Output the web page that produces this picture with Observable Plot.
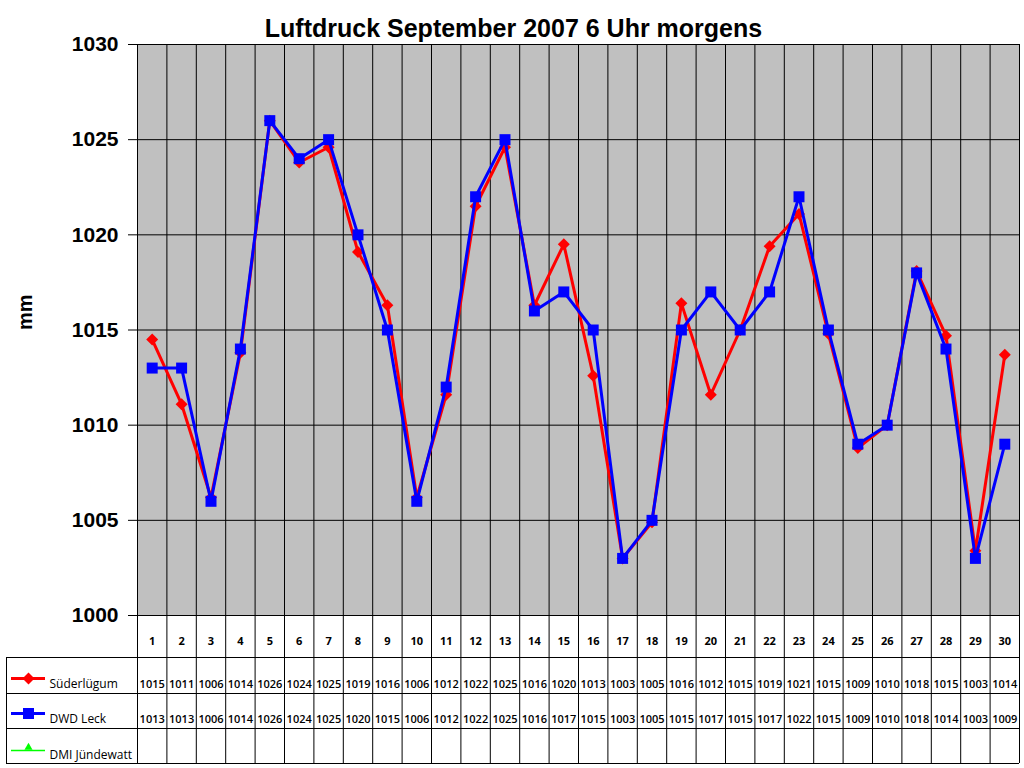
<!DOCTYPE html>
<html>
<head>
<meta charset="utf-8">
<script src="https://cdn.jsdelivr.net/npm/d3@7"></script>
<script src="https://cdn.jsdelivr.net/npm/@observablehq/plot@0.6"></script>
<style>
  html, body { margin: 0; padding: 0; background: #fff; }
  #chart { width: 1024px; height: 768px; }
</style>
</head>
<body>
<div id="chart"></div>
<script>
const title = "Luftdruck September 2007 6 Uhr morgens";
const yLabel = "mm";
const days = [1,2,3,4,5,6,7,8,9,10,11,12,13,14,15,16,17,18,19,20,21,22,23,24,25,26,27,28,29,30];
const seriesNames = ["Süderlügum", "DWD Leck", "DMI Jündewatt"];
// plotted values
const suederluegum = [1014.5,1011.1,1006.2,1013.8,1026.0,1023.8,1024.6,1019.1,1016.3,1006.2,1011.6,1021.5,1024.6,1016.3,1019.5,1012.6,1003.0,1004.9,1016.4,1011.6,1015.0,1019.4,1021.1,1014.8,1008.8,1010.0,1018.1,1014.7,1003.4,1013.7];
const dwdLeck = [1013,1013,1006,1014,1026,1024,1025,1020,1015,1006,1012,1022,1025,1016,1017,1015,1003,1005,1015,1017,1015,1017,1022,1015,1009,1010,1018,1014,1003,1009];
// table labels
const suederluegumTable = [1015,1011,1006,1014,1026,1024,1025,1019,1016,1006,1012,1022,1025,1016,1020,1013,1003,1005,1016,1012,1015,1019,1021,1015,1009,1010,1018,1015,1003,1014];
const dwdLeckTable = [1013,1013,1006,1014,1026,1024,1025,1020,1015,1006,1012,1022,1025,1016,1017,1015,1003,1005,1015,1017,1015,1017,1022,1015,1009,1010,1018,1014,1003,1009];
const yTicks = [1000,1005,1010,1015,1020,1025,1030];

const rows = days.map((d, i) => ({day: d, s: suederluegum[i], w: dwdLeck[i], sT: suederluegumTable[i], wT: dwdLeckTable[i]}));
const bounds = [days[0] - 0.5, ...days.map(d => d + 0.5)];

const tableFont = "'Open Sans', 'Noto Sans', sans-serif";

const plot = Plot.plot({
  width: 1024,
  height: 768,
  marginTop: 44,
  marginLeft: 137,
  marginRight: 5,
  marginBottom: 153,
  style: {fontFamily: "'Liberation Sans', Arial, sans-serif", background: "white", color: "black"},
  x: {domain: [bounds[0], bounds[bounds.length - 1]], axis: null},
  y: {domain: [yTicks[0], yTicks[yTicks.length - 1]], axis: null},
  marks: [
    Plot.frame({fill: "#c0c0c0", stroke: null}),
    Plot.gridY(yTicks, {stroke: "black", strokeOpacity: 1, strokeWidth: 1}),
    // column boundaries through the plot and data table
    Plot.ruleX(bounds, {x: d => d, stroke: "black", strokeWidth: 1, insetBottom: -148}),
    // table horizontal lines
    Plot.ruleY([yTicks[0]], {dy: 42, insetLeft: -131, stroke: "black"}),
    Plot.ruleY([yTicks[0]], {dy: 78, insetLeft: -131, stroke: "black"}),
    Plot.ruleY([yTicks[0]], {dy: 113, insetLeft: -131, stroke: "black"}),
    Plot.ruleY([yTicks[0]], {dy: 148, insetLeft: -131, stroke: "black"}),
    Plot.ruleX([bounds[0]], {dx: -131, insetTop: 613, insetBottom: -148, stroke: "black"}),
    // y axis
    Plot.axisY(yTicks, {tickSize: 9, tickPadding: 10, fontSize: 21, fontWeight: "bold", tickFormat: d => String(d), label: null, stroke: "black"}),
    Plot.text([yLabel], {frameAnchor: "left", dx: -112, rotate: -90, fontSize: 20, fontWeight: "bold", lineAnchor: "middle"}),
    // title
    Plot.text([title], {frameAnchor: "top", lineAnchor: "middle", dx: -65, dy: -16, fontSize: 25, fontWeight: "bold"}),
    // series
    Plot.line(rows, {x: "day", y: "s", stroke: "#ff0000", strokeWidth: 3}),
    Plot.dot(rows, {x: "day", y: "s", symbol: "diamond2", r: 5.4, fill: "#ff0000", stroke: null}),
    Plot.line(rows, {x: "day", y: "w", stroke: "#0000ff", strokeWidth: 3}),
    Plot.dot(rows, {x: "day", y: "w", symbol: "square", r: 6.2, fill: "#0000ff", stroke: null}),
    // table: day numbers and values
    Plot.text(rows, {x: "day", text: d => String(d.day), frameAnchor: "bottom", lineAnchor: "middle", dy: 26, fontSize: 11, fontWeight: "bold", fontFamily: tableFont}),
    Plot.text(rows, {x: "day", text: d => String(d.sT), frameAnchor: "bottom", lineAnchor: "middle", dy: 68.5, fontSize: 11, fontWeight: 600, fontFamily: tableFont}),
    Plot.text(rows, {x: "day", text: d => String(d.wT), frameAnchor: "bottom", lineAnchor: "middle", dy: 104, fontSize: 11, fontWeight: 600, fontFamily: tableFont}),
    // legend
    Plot.ruleY([yTicks[0]], {dy: 63, insetLeft: -126, insetRight: 974, stroke: "#ff0000", strokeWidth: 3}),
    Plot.dot([0], {frameAnchor: "bottom-left", dx: -109, dy: 63, symbol: "diamond2", r: 5.4, fill: "#ff0000", stroke: null}),
    Plot.ruleY([yTicks[0]], {dy: 98, insetLeft: -126, insetRight: 974, stroke: "#0000ff", strokeWidth: 3}),
    Plot.dot([0], {frameAnchor: "bottom-left", dx: -109, dy: 98, symbol: "square", r: 6.2, fill: "#0000ff", stroke: null}),
    Plot.ruleY([yTicks[0]], {dy: 135, insetLeft: -126, insetRight: 974, stroke: "#00ff00", strokeWidth: 1.5}),
    Plot.dot([0], {frameAnchor: "bottom-left", dx: -109, dy: 132, symbol: "triangle", r: 3, fill: "#00ff00", stroke: null}),
    Plot.text([seriesNames[0]], {frameAnchor: "bottom-left", lineAnchor: "middle", dx: -88, dy: 69, textAnchor: "start", fontSize: 12, fontFamily: tableFont}),
    Plot.text([seriesNames[1]], {frameAnchor: "bottom-left", lineAnchor: "middle", dx: -88, dy: 104, textAnchor: "start", fontSize: 12, fontFamily: tableFont}),
    Plot.text([seriesNames[2]], {frameAnchor: "bottom-left", lineAnchor: "middle", dx: -88, dy: 140, textAnchor: "start", fontSize: 12, fontFamily: tableFont})
  ]
});
document.getElementById("chart").appendChild(plot);
</script>
</body>
</html>
